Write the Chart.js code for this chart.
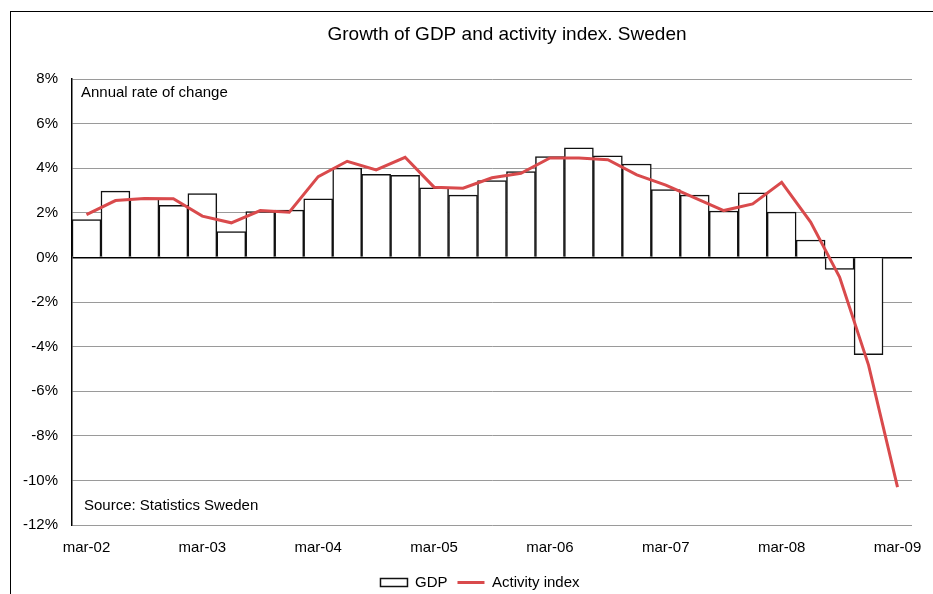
<!DOCTYPE html>
<html>
<head>
<meta charset="utf-8">
<script src="https://cdn.jsdelivr.net/npm/chart.js@4"></script>
<style>
  html, body { margin: 0; padding: 0; background: #fff; }
  #wrap { width: 933px; height: 594px; }
</style>
</head>
<body>
<div id="wrap"><canvas id="chart" width="933" height="594"></canvas></div>
<script>
const quarters = ['mar-02','jun-02','sep-02','dec-02','mar-03','jun-03','sep-03','dec-03',
  'mar-04','jun-04','sep-04','dec-04','mar-05','jun-05','sep-05','dec-05',
  'mar-06','jun-06','sep-06','dec-06','mar-07','jun-07','sep-07','dec-07',
  'mar-08','jun-08','sep-08','dec-08','mar-09'];

const gdp = [1.70, 2.97, 2.63, 2.34, 2.86, 1.16, 2.06, 2.12, 2.63, 4.00, 3.73, 3.68, 3.12, 2.79,
  3.45, 3.85, 4.52, 4.91, 4.56, 4.19, 3.04, 2.79, 2.08, 2.89, 2.03, 0.78, -0.54, -4.36, null];

const activity = [1.92, 2.55, 2.64, 2.63, 1.85, 1.55, 2.10, 2.03, 3.62, 4.31, 3.92, 4.49, 3.15, 3.10,
  3.57, 3.77, 4.46, 4.46, 4.38, 3.70, 3.24, 2.67, 2.10, 2.40, 3.37, 1.58, -0.88, -4.83, -10.3];

const title = 'Growth of GDP and activity index. Sweden';
const font = 'Liberation Sans, Arial, Helvetica, sans-serif';

// frame, title and notes inside the plot
const extras = {
  id: 'extras',
  afterLayout(chart) {
    // legend sits a bit right of the plot centre in the original
    chart.legend.left += 24;
    chart.legend.right += 24;
  },
  beforeDraw(chart) {
    const ctx = chart.ctx;
    ctx.save();
    ctx.strokeStyle = '#000';
    ctx.lineWidth = 1;
    ctx.strokeRect(10.5, 11.5, 1000, 1000);
    ctx.fillStyle = '#000';
    ctx.font = '19px ' + font;
    ctx.textAlign = 'center';
    ctx.textBaseline = 'middle';
    ctx.fillText(title, 507, 35);
    ctx.restore();
  },
  afterDraw(chart) {
    const ctx = chart.ctx, a = chart.chartArea;
    ctx.save();
    ctx.fillStyle = '#000';
    ctx.font = '15px ' + font;
    ctx.textBaseline = 'middle';
    ctx.fillText('Annual rate of change', a.left + 9, 93);
    ctx.fillText('Source: Statistics Sweden', a.left + 12, 506);
    ctx.restore();
  }
};

new Chart(document.getElementById('chart'), {
  data: {
    labels: quarters,
    datasets: [
      {
        type: 'bar',
        label: 'GDP',
        data: gdp,
        backgroundColor: '#fff',
        borderColor: '#111',
        borderWidth: 1.5,
        barPercentage: 1,
        categoryPercentage: 1,
        pointStyle: 'rect',
        order: 1
      },
      {
        type: 'line',
        label: 'Activity index',
        data: activity,
        borderColor: '#d94a4c',
        backgroundColor: '#d94a4c',
        borderWidth: 3,
        pointRadius: 0,
        pointStyle: 'line',
        tension: 0,
        order: 0
      }
    ]
  },
  options: {
    responsive: false,
    animation: false,
    layout: { padding: { left: 0, right: 21, top: 79, bottom: -6 } },
    plugins: {
      legend: {
        position: 'bottom',
        labels: {
          color: '#000',
          font: { family: font, size: 15 },
          usePointStyle: true,
          pointStyleWidth: 27,
          boxHeight: 8,
          padding: 10,
          sort: (a, b) => a.datasetIndex - b.datasetIndex
        }
      },
      tooltip: { enabled: false }
    },
    scales: {
      x: {
        afterFit: s => { s.height = 40; s.paddingRight = 0; s.paddingLeft = 0; },
        grid: { display: false, drawTicks: false },
        border: { display: false },
        ticks: {
          color: '#000',
          font: { family: font, size: 15 },
          autoSkip: false,
          maxRotation: 0,
          padding: 14,
          callback: function (v, i) { return i % 4 === 0 ? quarters[i] : ''; }
        }
      },
      y: {
        min: -12,
        max: 8,
        afterFit: s => { s.width = 72; s.paddingTop = 0; s.paddingBottom = 0; },
        grid: {
          drawTicks: false,
          color: ctx => ctx.tick && ctx.tick.value === 0 ? '#000' : '#9a9a9a',
          lineWidth: ctx => ctx.tick && ctx.tick.value === 0 ? 1.5 : 1
        },
        border: { color: '#000', width: 1.5 },
        ticks: {
          stepSize: 2,
          color: '#000',
          font: { family: font, size: 15 },
          padding: 14,
          callback: v => v + '%'
        }
      }
    }
  },
  plugins: [extras]
});
</script>
</body>
</html>
